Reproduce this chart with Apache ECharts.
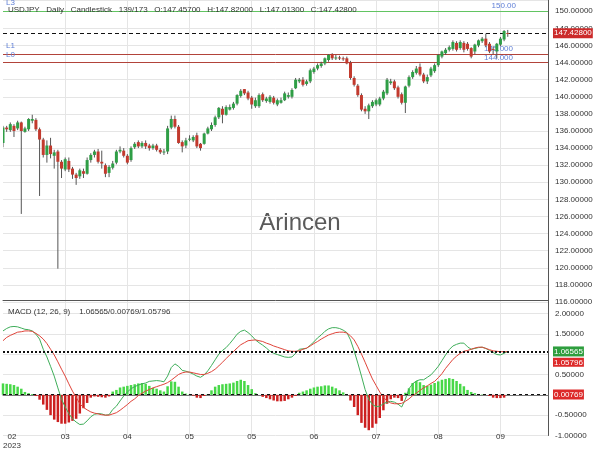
<!DOCTYPE html>
<html><head><meta charset="utf-8">
<script src="https://cdn.jsdelivr.net/npm/echarts@6/dist/echarts.min.js"></script>
<style>html,body{margin:0;padding:0;background:#fff}#c{width:600px;height:450px}</style>
</head><body><div id="c"></div>
<script>
// ---- data ----
const opens  = [134.6,136.4,136.1,136.6,136.3,137.0,135.9,136.2,137.2,137.3,136.2,135.0,133.2,134.3,133.1,133.6,132.4,131.5,132.5,131.6,130.9,130.7,131.3,131.0,132.6,133.2,133.6,132.4,132.0,131.1,131.7,132.3,133.6,133.7,133.1,132.6,134.1,134.7,134.2,134.6,134.3,134.0,134.3,133.8,133.5,133.6,136.4,137.4,136.5,134.7,134.3,135.0,134.9,135.5,134.5,134.5,135.7,136.2,136.7,137.6,138.6,137.9,138.5,138.7,139.2,140.1,140.9,140.5,139.9,138.9,138.9,140.3,139.5,139.4,139.9,139.1,139.3,139.6,140.0,140.0,141.0,141.8,142.0,141.5,141.8,142.9,143.3,143.6,143.9,144.3,145.0,144.6,144.6,144.5,144.5,144.0,142.2,141.3,140.2,138.6,138.3,138.9,139.1,139.1,139.8,140.4,141.6,141.8,141.1,140.3,139.3,141.3,142.3,142.8,143.5,142.6,141.8,142.5,143.0,143.7,144.7,145.1,145.5,145.6,146.3,145.7,146.3,146.2,145.7,145.3,146.0,146.5,146.8,146.2,145.6,145.3,146.1,146.7,147.457];
const highs  = [136.6,136.6,137.0,136.8,137.2,137.1,136.5,137.5,137.9,137.5,136.4,135.2,134.9,135.2,133.8,133.8,132.6,132.9,132.9,131.8,131.1,131.6,131.6,132.9,133.4,133.8,133.9,133.7,132.2,132.0,132.5,133.8,134.2,134.0,133.3,134.2,134.7,134.9,134.8,134.9,134.5,134.5,134.5,134.0,133.9,136.6,137.8,137.8,136.7,134.9,135.2,135.5,135.5,135.8,134.6,135.8,136.5,137.0,137.8,138.8,138.9,139.0,139.1,139.4,140.3,140.9,140.9,140.7,140.1,139.9,140.4,140.5,140.0,140.2,140.1,139.8,139.9,140.6,140.5,141.0,142.2,142.2,142.3,142.0,143.3,143.5,143.9,144.1,144.6,145.0,145.1,144.9,144.8,144.7,144.7,144.2,142.4,141.5,140.4,138.9,139.2,139.6,139.8,140.0,140.8,142.2,142.1,142.0,141.3,140.5,141.3,142.5,143.1,143.6,143.9,142.8,142.6,143.5,143.9,145.0,145.4,145.7,146.0,146.6,146.5,146.6,146.5,146.4,145.8,146.2,146.7,147.0,147.4,146.4,145.9,146.3,147.0,147.8,147.82];
const lows   = [134.1,135.9,135.9,135.3,136.1,126.3,135.8,136.0,136.9,136.0,128.4,132.9,132.3,132.8,131.6,119.9,130.5,131.3,131.2,130.4,129.7,130.4,130.5,130.9,132.3,132.9,132.2,131.6,130.6,130.6,131.5,132.1,133.4,132.9,132.1,132.4,133.9,134.0,134.0,133.9,133.7,133.8,133.6,133.3,133.2,133.3,136.2,136.3,134.5,133.5,134.0,134.8,134.7,134.0,133.7,134.4,135.6,136.0,136.5,137.4,136.9,137.8,138.4,138.5,139.0,139.9,140.2,139.6,138.6,138.7,138.7,139.4,139.3,139.2,139.1,138.9,139.2,139.5,139.8,139.8,140.9,141.6,141.2,141.3,141.6,142.7,143.1,143.4,143.7,144.1,144.3,144.3,144.3,144.2,143.8,142.0,141.2,140.0,138.3,138.0,137.4,138.7,138.9,138.9,139.6,140.2,141.4,140.8,139.8,139.1,138.1,141.1,142.1,142.6,142.4,141.6,141.5,142.3,142.8,143.5,144.5,144.9,145.3,145.4,145.3,145.5,145.2,145.4,144.5,145.0,145.8,146.3,145.8,145.1,145.0,144.5,145.9,146.5,147.013];
const closes = [136.4,136.2,136.8,136.0,137.0,136.0,136.3,137.4,137.4,136.2,135.0,133.2,134.3,133.3,133.5,132.4,131.6,132.7,131.5,130.9,130.5,131.4,131.0,132.6,133.2,133.6,132.4,132.2,131.0,131.8,132.2,133.6,133.8,133.1,132.3,134.0,134.5,134.2,134.6,134.2,134.0,134.3,133.8,133.5,133.6,136.3,137.4,136.5,134.6,134.2,134.9,135.1,135.3,134.2,134.0,135.7,136.3,136.7,137.6,138.7,137.9,138.8,138.8,139.2,140.2,140.7,140.4,139.8,139.1,139.6,140.2,139.6,139.8,140.0,139.3,139.6,139.6,140.4,140.2,140.8,142.0,142.0,141.4,141.8,143.1,143.3,143.7,143.9,144.5,144.9,144.5,144.6,144.5,144.4,143.9,142.2,141.4,140.2,138.5,138.3,139.0,139.4,139.6,139.8,140.6,142.0,141.8,141.0,140.0,139.3,141.2,142.3,142.9,143.3,142.6,141.8,142.3,143.3,143.7,144.9,145.3,145.5,145.8,146.4,145.5,146.4,145.5,145.6,144.7,146.1,146.6,146.8,146.0,145.3,145.5,146.2,146.8,147.7,147.428];

const macdLine = [1.57,1.63,1.67,1.68,1.67,1.64,1.61,1.60,1.57,1.49,
1.37,1.12,0.93,0.70,0.46,0.17,-0.11,-0.30,-0.46,-0.59,
-0.67,-0.73,-0.72,-0.64,-0.54,-0.48,-0.46,-0.47,-0.50,-0.49,
-0.36,-0.28,-0.15,-0.03,0.07,0.15,0.20,0.24,0.27,0.29,
0.33,0.34,0.35,0.34,0.32,0.46,0.67,0.76,0.70,0.60,
0.58,0.55,0.51,0.46,0.43,0.49,0.59,0.72,0.86,1.00,
1.09,1.16,1.26,1.37,1.49,1.56,1.59,1.53,1.45,1.35,
1.28,1.22,1.15,1.07,1.02,0.99,0.96,0.93,0.92,0.93,
1.02,1.12,1.13,1.14,1.22,1.30,1.40,1.47,1.56,1.62,
1.65,1.65,1.63,1.59,1.53,1.35,1.08,0.78,0.46,0.13,
-0.11,-0.24,-0.29,-0.28,-0.22,-0.18,-0.16,-0.18,-0.23,-0.30,
-0.11,0.15,0.27,0.34,0.37,0.37,0.43,0.49,0.59,0.70,
0.84,0.98,1.11,1.20,1.24,1.27,1.27,1.18,1.12,1.14,
1.16,1.17,1.14,1.09,1.04,0.99,0.98,1.02,1.06565];
const signalLine = [1.33,1.41,1.46,1.50,1.54,1.55,1.57,1.57,1.56,1.51,
1.45,1.37,1.26,1.12,0.98,0.81,0.63,0.46,0.27,0.09,
-0.06,-0.22,-0.31,-0.37,-0.42,-0.45,-0.47,-0.49,-0.50,-0.50,
-0.47,-0.44,-0.38,-0.31,-0.24,-0.16,-0.10,-0.02,0.04,0.09,
0.13,0.17,0.20,0.23,0.26,0.30,0.36,0.43,0.50,0.54,
0.56,0.56,0.54,0.52,0.50,0.50,0.53,0.57,0.63,0.71,
0.80,0.89,0.98,1.06,1.15,1.23,1.28,1.33,1.34,1.35,
1.33,1.31,1.27,1.24,1.20,1.17,1.14,1.11,1.08,1.07,
1.07,1.08,1.12,1.15,1.20,1.26,1.31,1.37,1.42,1.47,
1.50,1.53,1.54,1.54,1.52,1.45,1.35,1.19,1.00,0.80,
0.59,0.39,0.23,0.07,-0.06,-0.15,-0.20,-0.22,-0.22,-0.21,
-0.16,-0.10,-0.02,0.04,0.11,0.17,0.22,0.28,0.33,0.42,
0.52,0.65,0.76,0.87,0.95,1.02,1.07,1.09,1.12,1.15,
1.17,1.17,1.14,1.11,1.08,1.07,1.06,1.06,1.05796];
const histValues = [0.28,0.27,0.26,0.24,0.20,0.15,0.07,0.04,0.02,-0.03,
-0.12,-0.24,-0.37,-0.50,-0.61,-0.67,-0.71,-0.71,-0.68,-0.64,
-0.59,-0.46,-0.33,-0.20,-0.07,-0.04,-0.05,-0.06,-0.07,-0.04,
0.08,0.12,0.18,0.20,0.22,0.24,0.26,0.28,0.29,0.27,
0.22,0.17,0.15,0.11,0.08,0.21,0.33,0.32,0.20,0.08,
0.03,0.01,-0.02,-0.07,-0.08,-0.03,0.02,0.11,0.20,0.24,
0.26,0.27,0.28,0.30,0.34,0.37,0.34,0.24,0.14,0.04,
0.00,-0.05,-0.08,-0.11,-0.14,-0.16,-0.16,-0.15,-0.11,-0.07,
-0.03,0.05,0.08,0.11,0.15,0.18,0.20,0.21,0.23,0.23,
0.20,0.16,0.11,0.06,0.00,-0.14,-0.30,-0.50,-0.69,-0.81,
-0.87,-0.81,-0.71,-0.57,-0.38,-0.22,-0.11,-0.07,-0.08,-0.15,
0.05,0.16,0.29,0.34,0.31,0.24,0.22,0.25,0.29,0.33,
0.37,0.39,0.41,0.39,0.34,0.27,0.21,0.12,0.07,0.04,
0.02,0.01,0.00,-0.03,-0.07,-0.08,-0.08,-0.07,0.00769];

const tickLabels = ['02','03','04','05','05','06','07','08','09'];
const yearLabel = '2023';
const levelL3 = 150.0, levelL1 = 145.0, levelL0 = 144.0;
const lastPrice = 147.428;
const macdLast = 1.06565, signalLast = 1.05796, histLast = 0.00769;
const TOTAL_SLOTS = 150, TICK_EVERY = 17;

// ---- chart ----
const FONT = '"Liberation Sans", Arial, sans-serif';
const UP = '#2f9e46', DOWN = '#c23a2e', WICK = '#555';
const NONE = 'rgba(0,0,0,0)';
const cats = Array.from({length: TOTAL_SLOTS}, (_, i) => String(i));
const candleData = opens.map((o, i) => [i, o, closes[i], lows[i], highs[i]]);
const isTick = i => i % TICK_EVERY === 0;
const gridLine = {show: true, interval: (i) => i > 0 && isTick(i), lineStyle: {color: '#e5e5e5', width: 1}};
const blue = '#5f7fd6';
const tag = (bg) => ({show: true, position: 'end', distance: 5, color: '#fff', backgroundColor: bg,
  fontSize: 8, fontFamily: FONT, padding: [1, 1, 0, 1], lineHeight: 9});

const chart = echarts.init(document.getElementById('c'), null, {renderer: 'canvas'});
chart.setOption({
  animation: false,
  backgroundColor: '#fff',
  textStyle: {fontFamily: FONT},
  title: [
    {text: 'USDJPY   Daily   Candlestick   139/173   O:147.45700   H:147.82000   L:147.01300   C:147.42800',
     left: 8, top: 6, padding: 0, textStyle: {fontSize: 8, fontWeight: 'normal', color: '#333', fontFamily: FONT}},
    {text: 'MACD (12, 26, 9)    1.06565/0.00769/1.05796',
     left: 8, top: 308, padding: 0, textStyle: {fontSize: 8, fontWeight: 'normal', color: '#333', fontFamily: FONT}}
  ],
  graphic: [{type: 'text', left: 'center', top: 211, z: 0,
    style: {text: 'Arincen', fontSize: 24, fill: '#5a5a5a', fontFamily: FONT}}],
  grid: [
    {left: 3, right: 52, top: 0, height: 302},
    {left: 3, right: 52, top: 300, height: 136.5}
  ],
  xAxis: [
    {type: 'category', gridIndex: 0, data: cats, boundaryGap: false, offset: -2,
     axisLine: {show: true, lineStyle: {color: '#555'}}, axisTick: {show: false}, axisLabel: {show: false},
     splitLine: gridLine},
    {type: 'category', gridIndex: 1, data: cats, boundaryGap: false, offset: -5,
     axisLine: {show: true, lineStyle: {color: '#777'}}, axisTick: {show: false},
     axisLabel: {show: true, interval: (i) => isTick(i) && i / TICK_EVERY < tickLabels.length, margin: 2,
       fontSize: 8, color: '#333', alignMinLabel: 'left',
       formatter: (v, i) => { const k = Math.round(i / TICK_EVERY); const t = tickLabels[k] || '';
         return k === 0 ? '{f|' + t + '}\n{f|' + yearLabel + '}' : t; },
       rich: {f: {width: 18, align: 'center', fontSize: 8, color: '#333', lineHeight: 9}}},
     splitLine: gridLine}
  ],
  yAxis: [
    {type: 'value', gridIndex: 0, position: 'right', min: 116, max: 151.32, interval: 2, scale: true,
     axisLine: {show: true, lineStyle: {color: '#555'}}, axisTick: {show: false},
     axisLabel: {fontSize: 8, color: '#333', margin: 7, showMaxLabel: false, formatter: v => v.toFixed(5)},
     splitLine: {show: true, lineStyle: {color: '#e5e5e5'}}},
    {type: 'value', gridIndex: 1, position: 'right', min: -1, max: 2.33, interval: 0.5,
     axisLine: {show: true, lineStyle: {color: '#555'}}, axisTick: {show: false},
     axisLabel: {fontSize: 8, color: '#333', margin: 7, showMaxLabel: false, formatter: v => v.toFixed(5)},
     splitLine: {show: true, lineStyle: {color: '#e5e5e5'}}}
  ],
  series: [
    {type: 'custom', name: 'USDJPY', xAxisIndex: 0, yAxisIndex: 0, data: candleData, clip: true,
     encode: {x: 0, y: [1, 2, 3, 4]},
     renderItem: (params, api) => {
       const x = api.value(0), o = api.value(1), c = api.value(2), l = api.value(3), h = api.value(4);
       const pO = api.coord([x, o]), pC = api.coord([x, c]), pL = api.coord([x, l]), pH = api.coord([x, h]);
       const w = 3, top = Math.min(pO[1], pC[1]), hh = Math.max(Math.abs(pO[1] - pC[1]), 1);
       return {type: 'group', children: [
         {type: 'line', shape: {x1: pH[0], y1: pH[1], x2: pL[0], y2: pL[1]}, style: {stroke: WICK, lineWidth: 1}},
         {type: 'rect', shape: {x: pO[0] - w / 2, y: top, width: w, height: hh}, style: {fill: c >= o ? UP : DOWN}}
       ]};
     },
     markLine: {symbol: ['none', 'none'], silent: true, animation: false, precision: 5, z: 1, data: [
       {yAxis: levelL3, lineStyle: {color: '#62c462', width: 1, type: 'solid'},
        label: {show: true, position: 'insideEndTop', distance: [32, 1], color: blue, fontSize: 8, formatter: p => p.value.toFixed(2)}},
       {yAxis: levelL3, lineStyle: {color: NONE, width: 0},
        label: {show: true, position: 'insideStartTop', distance: [3, 4], color: blue, fontSize: 8, formatter: 'L3'}},
       {yAxis: levelL1, lineStyle: {color: '#b2433a', width: 1, type: 'solid'},
        label: {show: true, position: 'insideEndTop', distance: [35, 1], color: blue, fontSize: 8, formatter: p => p.value.toFixed(3)}},
       {yAxis: levelL1, lineStyle: {color: NONE, width: 0},
        label: {show: true, position: 'insideStartTop', distance: [3, 4], color: blue, fontSize: 8, formatter: 'L1'}},
       {yAxis: levelL0, lineStyle: {color: '#b2433a', width: 1, type: 'solid'},
        label: {show: true, position: 'insideEndTop', distance: [35, 1], color: blue, fontSize: 8, formatter: p => p.value.toFixed(3)}},
       {yAxis: levelL0, lineStyle: {color: NONE, width: 0},
        label: {show: true, position: 'insideStartTop', distance: [3, 4], color: blue, fontSize: 8, formatter: 'L0'}},
       {yAxis: lastPrice, lineStyle: {color: '#111', width: 1, type: [4, 3]},
        label: Object.assign(tag('#cc2a2a'), {formatter: p => p.value.toFixed(5)})}
     ]}},
    {type: 'bar', name: 'hist', xAxisIndex: 1, yAxisIndex: 1, data: histValues, barWidth: 2.5,
     itemStyle: {color: p => p.value >= 0 ? '#47d847' : '#cc2020'},
     markLine: {symbol: ['none', 'none'], silent: true, animation: false, precision: 5, data: [
       {yAxis: histLast, lineStyle: {color: '#111', width: 1, type: [3, 3]},
        label: Object.assign(tag('#dd2a2a'), {formatter: p => p.value.toFixed(5)})}
     ]}},
    {type: 'line', name: 'MACD', xAxisIndex: 1, yAxisIndex: 1, data: macdLine, showSymbol: false,
     lineStyle: {color: '#3fae5a', width: 1}, z: 3,
     markLine: {symbol: ['none', 'none'], silent: true, animation: false, precision: 5, data: [
       {yAxis: macdLast, lineStyle: {color: '#111', width: 2, type: [2, 2]},
        label: Object.assign(tag('#2e9e3e'), {formatter: p => p.value.toFixed(5)})}
     ]}},
    {type: 'line', name: 'Signal', xAxisIndex: 1, yAxisIndex: 1, data: signalLine, showSymbol: false,
     lineStyle: {color: '#e0443a', width: 1}, z: 3,
     markLine: {symbol: ['none', 'none'], silent: true, animation: false, precision: 5, data: [
       {yAxis: signalLast, lineStyle: {color: NONE, width: 0},
        label: {show: true, position: 'end', distance: 5, verticalAlign: 'top', fontSize: 8,
          formatter: p => '{a| }\n{b|' + p.value.toFixed(5) + '}',
          rich: {a: {height: 6, lineHeight: 6, fontSize: 1},
                 b: {color: '#fff', backgroundColor: '#dd2a2a', fontSize: 8, padding: [1, 1, 0, 1], lineHeight: 9, fontFamily: FONT}}}}
     ]}}
  ]
});
</script>
</body></html>
